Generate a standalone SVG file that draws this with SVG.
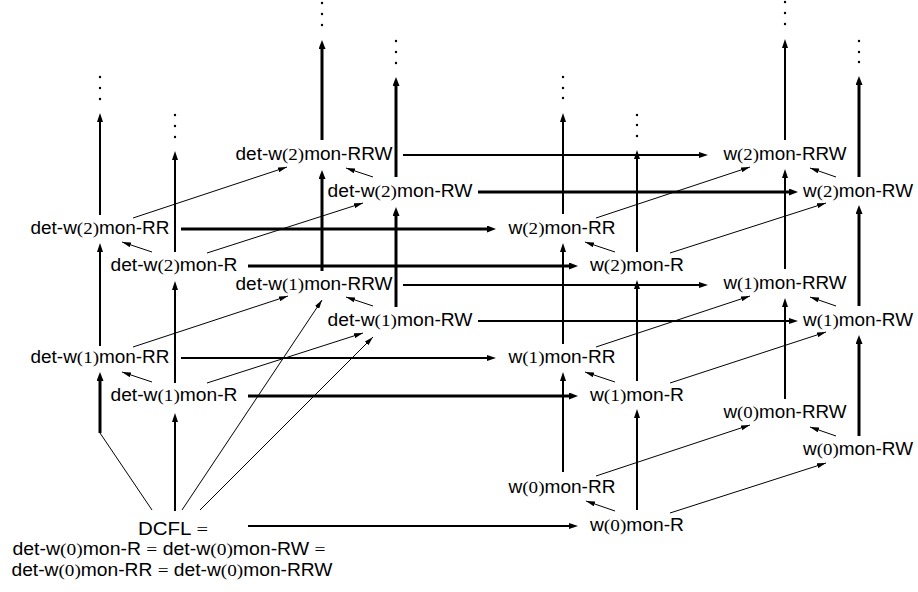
<svg xmlns="http://www.w3.org/2000/svg" width="918" height="592" viewBox="0 0 918 592">
  <style>
    .lbl { font-family: "Liberation Sans", Arial, sans-serif; font-size: 17.5px; text-anchor: middle; fill: #000; }
    .m { font-family: "Liberation Serif", "Times New Roman", serif; }
    .e { stroke: #000; fill: none; }
    .n { stroke-width: 2; marker-end: url(#ah); }
    .k { stroke-width: 3; marker-end: url(#ahk); }
    .t { stroke-width: 1; marker-end: url(#aht); }
    .p { stroke-width: 1; }
    .dots circle { fill: #000; }
  </style>
  <defs>
    <marker id="ah" markerUnits="userSpaceOnUse" viewBox="0 0 9 6" markerWidth="9" markerHeight="6" refX="3" refY="3" orient="auto">
      <path d="M0,0 L9,3 L0,6 z" fill="#000"/>
    </marker>
    <marker id="ahk" markerUnits="userSpaceOnUse" viewBox="0 0 9 7" markerWidth="9" markerHeight="7" refX="3" refY="3.5" orient="auto">
      <path d="M0,0 L9,3.5 L0,7 z" fill="#000"/>
    </marker>
    <marker id="aht" markerUnits="userSpaceOnUse" viewBox="0 0 9 5" markerWidth="9" markerHeight="5" refX="9" refY="2.5" orient="auto">
      <path d="M0,0 L9,2.5 L0,5 z" fill="#000"/>
    </marker>
  </defs>

  <!-- connectors -->
  <g id="connectors" class="e">
    <!-- left cube, vertical -->
    <line class="n" x1="100" y1="346" x2="100" y2="249"/>
    <line class="n" x1="100" y1="215" x2="100" y2="119"/>
    <line class="k" x1="100" y1="433" x2="100" y2="378"/>
    <line class="p" x1="152" y1="510" x2="100" y2="433"/>
    <line class="n" x1="175" y1="511" x2="175" y2="419"/>
    <line class="n" x1="175" y1="383" x2="175" y2="287"/>
    <line class="n" x1="175" y1="252" x2="175" y2="157"/>
    <line class="k" x1="322" y1="271" x2="322" y2="176"/>
    <line class="k" x1="322" y1="140" x2="322" y2="46"/>
    <line class="k" x1="396" y1="307" x2="396" y2="213"/>
    <line class="k" x1="396" y1="177" x2="396" y2="83"/>
    <!-- right cube, vertical -->
    <line class="n" x1="563" y1="472" x2="563" y2="378"/>
    <line class="n" x1="563" y1="344" x2="563" y2="249"/>
    <line class="n" x1="563" y1="214" x2="563" y2="119"/>
    <line class="n" x1="637" y1="510" x2="637" y2="415"/>
    <line class="n" x1="637" y1="381" x2="637" y2="286"/>
    <line class="n" x1="637" y1="252" x2="637" y2="156"/>
    <line class="n" x1="785" y1="399" x2="785" y2="304"/>
    <line class="n" x1="785" y1="269" x2="785" y2="175"/>
    <line class="n" x1="785" y1="140" x2="785" y2="45"/>
    <line class="k" x1="859" y1="436" x2="859" y2="341"/>
    <line class="k" x1="859" y1="306" x2="859" y2="211"/>
    <line class="k" x1="859" y1="177" x2="859" y2="82"/>
    <!-- deterministic to nondeterministic -->
    <line class="n" x1="403" y1="155" x2="702" y2="155"/>
    <line class="k" x1="478" y1="192" x2="792" y2="192"/>
    <line class="k" x1="181" y1="229" x2="490" y2="229"/>
    <line class="k" x1="248" y1="266" x2="572" y2="266"/>
    <line class="n" x1="403" y1="285" x2="702" y2="285"/>
    <line class="n" x1="478" y1="321" x2="792" y2="321"/>
    <line class="n" x1="181" y1="358" x2="490" y2="358"/>
    <line class="k" x1="248" y1="396" x2="572" y2="396"/>
    <line class="n" x1="248" y1="526" x2="572" y2="526"/>
    <!-- from DCFL -->
    <line class="t" x1="182" y1="510" x2="322" y2="300"/>
    <line class="t" x1="200" y1="510" x2="373" y2="337"/>
    <!-- left cube, level 2 -->
    <line class="t" x1="152" y1="252" x2="122" y2="242"/>
    <line class="t" x1="133" y1="218" x2="287" y2="167"/>
    <line class="t" x1="207" y1="253" x2="363" y2="203"/>
    <line class="t" x1="373" y1="177" x2="346" y2="168"/>
    <!-- left cube, level 1 -->
    <line class="t" x1="152" y1="382" x2="122" y2="372"/>
    <line class="t" x1="133" y1="347" x2="288" y2="296"/>
    <line class="t" x1="207" y1="383" x2="363" y2="333"/>
    <line class="t" x1="373" y1="306" x2="346" y2="297"/>
    <!-- right cube, level 2 -->
    <line class="t" x1="615" y1="252" x2="585" y2="242"/>
    <line class="t" x1="596" y1="218" x2="750" y2="167"/>
    <line class="t" x1="670" y1="253" x2="826" y2="203"/>
    <line class="t" x1="836" y1="177" x2="810" y2="168"/>
    <!-- right cube, level 1 -->
    <line class="t" x1="615" y1="382" x2="585" y2="372"/>
    <line class="t" x1="596" y1="347" x2="750" y2="296"/>
    <line class="t" x1="670" y1="383" x2="826" y2="332"/>
    <line class="t" x1="836" y1="306" x2="810" y2="297"/>
    <!-- right cube, level 0 -->
    <line class="t" x1="615" y1="511" x2="586" y2="501"/>
    <line class="t" x1="596" y1="476" x2="750" y2="425"/>
    <line class="t" x1="670" y1="513" x2="826" y2="463"/>
    <line class="t" x1="836" y1="436" x2="810" y2="427"/>
  </g>

  <!-- continuation marks -->
  <g id="more-det-RR" class="dots"><circle cx="100" cy="77" r="1.2"/><circle cx="100" cy="88" r="1.2"/><circle cx="100" cy="99" r="1.2"/></g>
  <g id="more-det-R" class="dots"><circle cx="175" cy="115" r="1.2"/><circle cx="175" cy="126" r="1.2"/><circle cx="175" cy="137" r="1.2"/></g>
  <g id="more-det-RRW" class="dots"><circle cx="322" cy="3" r="1.2"/><circle cx="322" cy="14" r="1.2"/><circle cx="322" cy="25" r="1.2"/></g>
  <g id="more-det-RW" class="dots"><circle cx="396" cy="41" r="1.2"/><circle cx="396" cy="52" r="1.2"/><circle cx="396" cy="63" r="1.2"/></g>
  <g id="more-RR" class="dots"><circle cx="563" cy="77" r="1.2"/><circle cx="563" cy="88" r="1.2"/><circle cx="563" cy="98" r="1.2"/></g>
  <g id="more-R" class="dots"><circle cx="637" cy="115" r="1.2"/><circle cx="637" cy="125" r="1.2"/><circle cx="637" cy="136" r="1.2"/></g>
  <g id="more-RRW" class="dots"><circle cx="785" cy="2" r="1.2"/><circle cx="785" cy="13" r="1.2"/><circle cx="785" cy="24" r="1.2"/></g>
  <g id="more-RW" class="dots"><circle cx="859" cy="41" r="1.2"/><circle cx="859" cy="52" r="1.2"/><circle cx="859" cy="62" r="1.2"/></g>

  <!-- deterministic classes -->
  <g id="det-w2-RRW"><text class="lbl" x="314" y="160" textLength="157" lengthAdjust="spacingAndGlyphs">det-w<tspan class="m">(2)</tspan>mon-RRW</text></g>
  <g id="det-w2-RW"><text class="lbl" x="400" y="197" textLength="145" lengthAdjust="spacingAndGlyphs">det-w<tspan class="m">(2)</tspan>mon-RW</text></g>
  <g id="det-w2-RR"><text class="lbl" x="100" y="234" textLength="139" lengthAdjust="spacingAndGlyphs">det-w<tspan class="m">(2)</tspan>mon-RR</text></g>
  <g id="det-w2-R"><text class="lbl" x="174" y="271" textLength="127" lengthAdjust="spacingAndGlyphs">det-w<tspan class="m">(2)</tspan>mon-R</text></g>
  <g id="det-w1-RRW"><text class="lbl" x="314" y="290" textLength="157" lengthAdjust="spacingAndGlyphs">det-w<tspan class="m">(1)</tspan>mon-RRW</text></g>
  <g id="det-w1-RW"><text class="lbl" x="400" y="326" textLength="145" lengthAdjust="spacingAndGlyphs">det-w<tspan class="m">(1)</tspan>mon-RW</text></g>
  <g id="det-w1-RR"><text class="lbl" x="100" y="363" textLength="139" lengthAdjust="spacingAndGlyphs">det-w<tspan class="m">(1)</tspan>mon-RR</text></g>
  <g id="det-w1-R"><text class="lbl" x="174" y="401" textLength="127" lengthAdjust="spacingAndGlyphs">det-w<tspan class="m">(1)</tspan>mon-R</text></g>
  <g id="DCFL">
    <text class="lbl" x="173" y="535" textLength="70" lengthAdjust="spacingAndGlyphs">DCFL <tspan class="m">=</tspan></text>
    <text class="lbl" x="169" y="555" textLength="313" lengthAdjust="spacingAndGlyphs">det-w<tspan class="m">(0)</tspan>mon-R <tspan class="m">=</tspan> det-w<tspan class="m">(0)</tspan>mon-RW <tspan class="m">=</tspan></text>
    <text class="lbl" x="172" y="576" textLength="321" lengthAdjust="spacingAndGlyphs">det-w<tspan class="m">(0)</tspan>mon-RR <tspan class="m">=</tspan> det-w<tspan class="m">(0)</tspan>mon-RRW</text>
  </g>

  <!-- nondeterministic classes -->
  <g id="w2-RRW"><text class="lbl" x="785" y="160" textLength="123" lengthAdjust="spacingAndGlyphs">w<tspan class="m">(2)</tspan>mon-RRW</text></g>
  <g id="w2-RW"><text class="lbl" x="858" y="197" textLength="110" lengthAdjust="spacingAndGlyphs">w<tspan class="m">(2)</tspan>mon-RW</text></g>
  <g id="w2-RR"><text class="lbl" x="562" y="234" textLength="107" lengthAdjust="spacingAndGlyphs">w<tspan class="m">(2)</tspan>mon-RR</text></g>
  <g id="w2-R"><text class="lbl" x="637" y="271" textLength="94" lengthAdjust="spacingAndGlyphs">w<tspan class="m">(2)</tspan>mon-R</text></g>
  <g id="w1-RRW"><text class="lbl" x="785" y="289" textLength="123" lengthAdjust="spacingAndGlyphs">w<tspan class="m">(1)</tspan>mon-RRW</text></g>
  <g id="w1-RW"><text class="lbl" x="858" y="326" textLength="110" lengthAdjust="spacingAndGlyphs">w<tspan class="m">(1)</tspan>mon-RW</text></g>
  <g id="w1-RR"><text class="lbl" x="562" y="363" textLength="107" lengthAdjust="spacingAndGlyphs">w<tspan class="m">(1)</tspan>mon-RR</text></g>
  <g id="w1-R"><text class="lbl" x="637" y="401" textLength="94" lengthAdjust="spacingAndGlyphs">w<tspan class="m">(1)</tspan>mon-R</text></g>
  <g id="w0-RRW"><text class="lbl" x="785" y="418" textLength="123" lengthAdjust="spacingAndGlyphs">w<tspan class="m">(0)</tspan>mon-RRW</text></g>
  <g id="w0-RW"><text class="lbl" x="858" y="455" textLength="110" lengthAdjust="spacingAndGlyphs">w<tspan class="m">(0)</tspan>mon-RW</text></g>
  <g id="w0-RR"><text class="lbl" x="562" y="493" textLength="107" lengthAdjust="spacingAndGlyphs">w<tspan class="m">(0)</tspan>mon-RR</text></g>
  <g id="w0-R"><text class="lbl" x="637" y="531" textLength="94" lengthAdjust="spacingAndGlyphs">w<tspan class="m">(0)</tspan>mon-R</text></g>
</svg>
